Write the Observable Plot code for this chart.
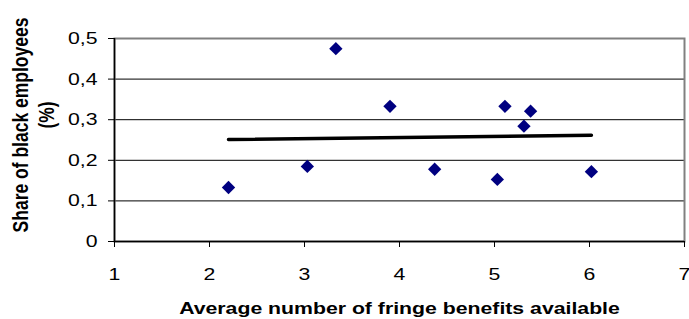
<!DOCTYPE html>
<html>
<head>
<meta charset="utf-8">
<script src="https://cdn.jsdelivr.net/npm/d3@7"></script>
<script src="https://cdn.jsdelivr.net/npm/@observablehq/plot@0.6"></script>
<style>
  html, body { margin: 0; padding: 0; background: #fff; }
  svg { font-family: "Liberation Sans", Arial, sans-serif; }
</style>
</head>
<body>
<div id="chart"></div>
<script>
const benefits = [2.2, 3.03, 3.33, 3.9, 4.37, 5.03, 5.11, 5.31, 5.38, 6.02];
const shareBlack = [0.133, 0.185, 0.475, 0.333, 0.178, 0.153, 0.333, 0.284, 0.321, 0.172];
const trendX = [2.2, 6.02];
const trendY = [0.251, 0.262];
const xTicks = [1, 2, 3, 4, 5, 6, 7];
const yTicks = [0, 0.1, 0.2, 0.3, 0.4, 0.5];
const xTitle = "Average number of fringe benefits available";
const yTitleMain = "Share of black employees";
const yTitleUnit = "(%)";

const points = benefits.map((x, i) => ({x, y: shareBlack[i]}));
const trend = trendX.map((x, i) => ({x, y: trendY[i]}));
const fmt = d => d === 0 ? "0" : d3.format(".1f")(d).replace(".", ",");
const STRETCH = 1.25;

const chart = Plot.plot({
  width: 689,
  height: 319,
  marginLeft: 114,
  marginRight: 5,
  marginTop: 38,
  marginBottom: 78,
  style: {fontFamily: "Liberation Sans, Arial, sans-serif", fontSize: "17px", background: "#fff"},
  x: {domain: [1, 7]},
  y: {domain: [0, 0.5]},
  marks: [
    Plot.gridY(yTicks.slice(1), {stroke: "#000", strokeOpacity: 1, strokeWidth: 1}),
    Plot.frame({stroke: "#808080", strokeWidth: 2}),
    Plot.ruleX([1], {stroke: "#000", strokeWidth: 1.5}),
    Plot.ruleY([0], {stroke: "#000", strokeWidth: 1.5}),
    Plot.axisX({ticks: xTicks, tickSize: 6, tickPadding: 20, tickFormat: "d", label: null, fontSize: 17, stroke: "#000", fill: "#000"}),
    Plot.axisY({ticks: yTicks, tickSize: 6, tickPadding: 11, tickFormat: fmt, label: null, fontSize: 17, stroke: "#000", fill: "#000"}),
    Plot.line(trend, {x: "x", y: "y", stroke: "#000", strokeWidth: 3.5, strokeLinecap: "round"}),
    Plot.dot(points, {x: "x", y: "y", symbol: "diamond2", r: 6, fill: "#000080", stroke: "none"}),
    Plot.text([xTitle], {frameAnchor: "bottom", lineAnchor: "middle", dy: 67, fontSize: 17, fontWeight: "bold", fill: "#000"}),
    Plot.text([yTitleMain], {frameAnchor: "left", textAnchor: "middle", lineAnchor: "middle", dx: -94, dy: -15, rotate: -90, fontSize: 17.5, fontWeight: "bold", fill: "#000"}),
    Plot.text([yTitleUnit], {frameAnchor: "left", textAnchor: "middle", lineAnchor: "middle", dx: -68, dy: -25, rotate: -90, fontSize: 17.5, fontWeight: "bold", fill: "#000"})
  ]
});

// emulate the horizontally stretched lettering of the source image
d3.select(chart).selectAll("text").each(function() {
  const t = this.getAttribute("transform") || "";
  if (/rotate/.test(t)) {
    this.setAttribute("transform", t.replace(/rotate/, `scale(${STRETCH},1) rotate`));
  } else {
    this.setAttribute("transform", `${t} scale(${STRETCH},1)`);
  }
});
document.getElementById("chart").appendChild(chart);
</script>
</body>
</html>
